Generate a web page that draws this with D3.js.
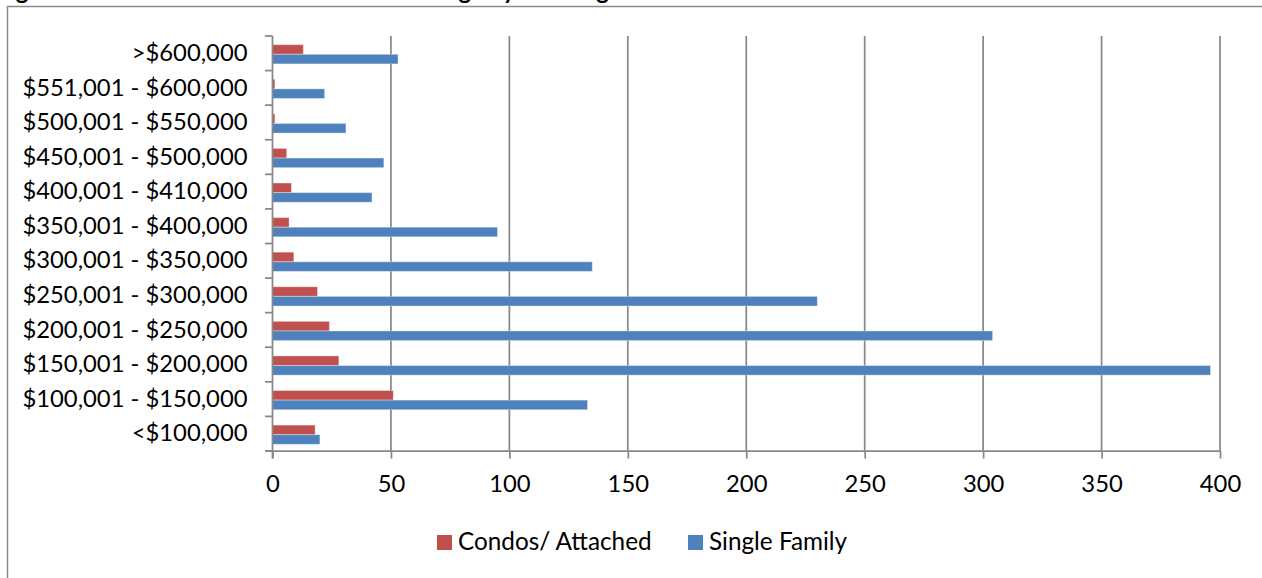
<!DOCTYPE html>
<html>
<head>
<meta charset="utf-8">
<script src="https://cdn.jsdelivr.net/npm/d3@7"></script>
<style>
  html, body { margin: 0; padding: 0; background: #ffffff; overflow: hidden; }
  svg { display: block; }
  text { font-family: Lato, "Open Sans", "Noto Sans", sans-serif; fill: #000; }
</style>
</head>
<body>
<svg id="chart" width="1262" height="578"></svg>
<script>
// Price ranges, listed from the lowest (bottom row) to the highest (top row)
const priceRanges = [
  "<$100,000",
  "$100,001 - $150,000",
  "$150,001 - $200,000",
  "$200,001 - $250,000",
  "$250,001 - $300,000",
  "$300,001 - $350,000",
  "$350,001 - $400,000",
  "$400,001 - $410,000",
  "$450,001 - $500,000",
  "$500,001 - $550,000",
  "$551,001 - $600,000",
  ">$600,000"
];

// Number of sales in each price range
const condosAttached = [18, 51, 28, 24, 19, 9, 7, 8, 6, 1, 1, 13];
const singleFamily   = [20, 133, 396, 304, 230, 135, 95, 42, 47, 31, 22, 53];

const seriesNames = ["Condos/ Attached", "Single Family"];
const seriesColors = ["#C0504D", "#4F81BD"];

const xTicks = [0, 50, 100, 150, 200, 250, 300, 350, 400];

const titleText = "Figure 6: Number of Sales in Each Price Range by Housing";

// ---- layout ----
const W = 1262, H = 578;
const plot = { left: 272.5, right: 1220, top: 36, bottom: 451 };
const labelSize = 23.8;

const svg = d3.select("#chart");

svg.append("rect").attr("width", W).attr("height", H).attr("fill", "#fff");

// Chart title (sits above the chart frame, at the top edge of the page)
svg.append("text")
  .attr("x", -4)
  .attr("y", -1)
  .attr("font-weight", "bold")
  .attr("font-size", 24)
  .text(titleText);

// Chart frame
svg.append("rect")
  .attr("x", 7.5).attr("y", 6.5)
  .attr("width", W + 20).attr("height", H + 20)
  .attr("fill", "none")
  .attr("stroke", "#8a8a8a")
  .attr("stroke-width", 1.5);

// ---- scales ----
const x = d3.scaleLinear().domain([0, 400]).range([plot.left, plot.right]);

const y = d3.scaleBand()
  .domain(priceRanges.slice().reverse())
  .range([plot.top, plot.bottom])
  .paddingInner(0).paddingOuter(0);

const ySub = d3.scaleBand()
  .domain(seriesNames)
  .range([0, y.bandwidth()])
  .paddingInner(0)
  .paddingOuter(0.8);

const gridColor = "#898989";

// Vertical gridlines
svg.append("g")
  .selectAll("line")
  .data(xTicks.filter(t => t > 0))
  .join("line")
  .attr("x1", d => x(d)).attr("x2", d => x(d))
  .attr("y1", plot.top).attr("y2", plot.bottom)
  .attr("stroke", gridColor)
  .attr("stroke-width", 1.75);

// Bars
const rows = priceRanges.map((p, i) => ({ range: p, values: [condosAttached[i], singleFamily[i]] }));

const rowG = svg.append("g")
  .selectAll("g")
  .data(rows)
  .join("g")
  .attr("transform", d => `translate(0,${y(d.range) + 1})`);

rowG.selectAll("rect")
  .data(d => d.values.map((v, k) => ({ name: seriesNames[k], value: v, color: seriesColors[k] })))
  .join("rect")
  .attr("x", x(0))
  .attr("y", d => ySub(d.name))
  .attr("width", d => x(d.value) - x(0))
  .attr("height", ySub.bandwidth())
  .attr("fill", d => d.color)
  .attr("stroke", "#ffffff")
  .attr("stroke-opacity", 0.35)
  .attr("stroke-width", 1);

// Y axis (category axis)
const yAxis = d3.axisLeft(y).tickSize(0).tickPadding(25);
const yAxisG = svg.append("g")
  .attr("transform", `translate(${plot.left},0)`)
  .call(yAxis);
yAxisG.select(".domain").remove();
yAxisG.selectAll("text")
  .attr("font-size", labelSize)
  .attr("font-family", "Lato, 'Open Sans', sans-serif")
  .attr("fill", "#000");

// Category boundary tick marks
const boundaries = priceRanges.map(p => y(p)).concat([plot.bottom]);
svg.append("g")
  .selectAll("line")
  .data(boundaries)
  .join("line")
  .attr("x1", plot.left - 7.5).attr("x2", plot.left)
  .attr("y1", d => d).attr("y2", d => d)
  .attr("stroke", gridColor)
  .attr("stroke-width", 1.75);

svg.append("line")
  .attr("x1", plot.left).attr("x2", plot.left)
  .attr("y1", plot.top).attr("y2", plot.bottom + 7.5)
  .attr("stroke", gridColor)
  .attr("stroke-width", 1.75);

// X axis (value axis)
const xAxis = d3.axisBottom(x).tickValues(xTicks).tickSize(7.5).tickPadding(17);
const xAxisG = svg.append("g")
  .attr("transform", `translate(0,${plot.bottom})`)
  .call(xAxis);
xAxisG.select(".domain")
  .attr("d", `M${plot.left - 7.5},0H${plot.right}`)
  .attr("stroke", gridColor)
  .attr("stroke-width", 1.75);
xAxisG.selectAll(".tick line")
  .attr("stroke", gridColor)
  .attr("stroke-width", 1.75);
xAxisG.selectAll("text")
  .attr("font-size", labelSize)
  .attr("font-family", "Lato, 'Open Sans', sans-serif")
  .attr("fill", "#000");

// Legend
const legendItems = [
  { name: seriesNames[0], color: seriesColors[0], x: 437 },
  { name: seriesNames[1], color: seriesColors[1], x: 688 }
];
const legend = svg.append("g");
const li = legend.selectAll("g")
  .data(legendItems)
  .join("g")
  .attr("transform", d => `translate(${d.x},535)`);
li.append("rect")
  .attr("width", 15).attr("height", 15)
  .attr("fill", d => d.color);
li.append("text")
  .attr("x", 21).attr("y", 15)
  .attr("font-size", 24.3)
  .text(d => d.name);
</script>
</body>
</html>
